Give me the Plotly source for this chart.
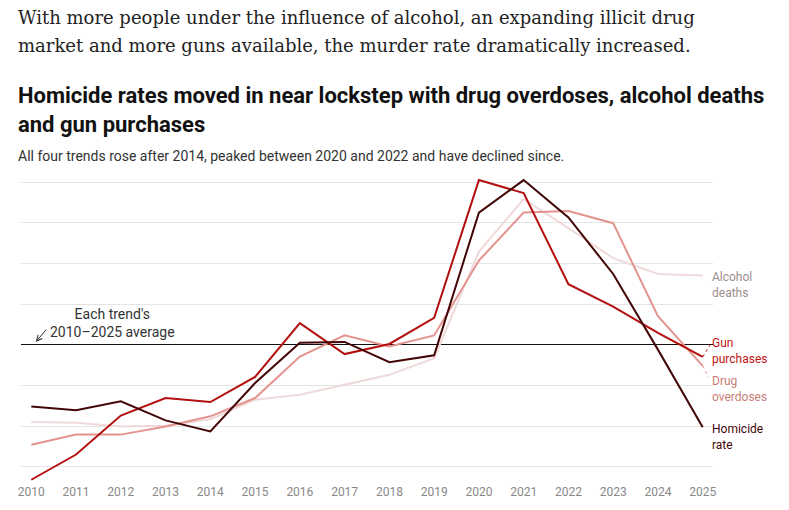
import plotly.graph_objects as go

# values are read as distance from each trend's own 2010-2025 average,
# in gridline units (0 = average)
years = list(range(2010, 2026))
homicide = [-1.52, -1.61, -1.39, -1.86, -2.13, -0.94, 0.05, 0.07,
            -0.43, -0.26, 3.25, 4.05, 3.13, 1.74, -0.12, -2.03]
guns = [-3.32, -2.70, -1.74, -1.31, -1.41, -0.79, 0.53, -0.23,
        0.02, 0.66, 4.05, 3.73, 1.49, 0.94, 0.29, -0.30]
drugs = [-2.46, -2.21, -2.21, -2.01, -1.76, -1.31, -0.29, 0.23,
         -0.04, 0.23, 2.07, 3.25, 3.29, 2.99, 0.70, -0.52]
alcohol = [-1.90, -1.92, -2.01, -1.99, -1.83, -1.35, -1.23, -0.98,
           -0.74, -0.33, 2.29, 3.58, 2.87, 2.13, 1.74, 1.70]

grid_vals = [-3, -2, -1, 1, 2, 3, 4]

series = [
    # name, values, line colour, label colour, label y
    ('Alcohol<br>deaths', alcohol, '#f0d9d9', '#9c8e8e', 1.47),
    ('Drug<br>overdoses', drugs, '#e3948f', '#c97d78', -1.08),
    ('Gun<br>purchases', guns, '#b30f0f', '#c41414', -0.16),
    ('Homicide<br>rate', homicide, '#420606', '#420606', -2.28),
]

FONT = 'Roboto'

fig = go.Figure()
for name, vals, color, _, _ in series:
    fig.add_trace(go.Scatter(
        x=years, y=vals, mode='lines',
        line=dict(color=color, width=2),
        name=name, hoverinfo='skip',
    ))

x_edge = 2025.23
annotations = []
for name, vals, _, lcolor, ly in series:
    annotations.append(dict(
        x=x_edge, y=ly, xref='x', yref='y', text=name, showarrow=False,
        xanchor='left', yanchor='middle', align='left', xshift=-3,
        font=dict(family=FONT, size=12, color=lcolor),
    ))

# dotted leader lines from the last point to the label
shapes = [
    dict(type='line', xref='x', yref='y', x0=2025, y0=guns[-1], x1=2025.17, y1=0.0,
         line=dict(color='#c41414', width=1, dash='dot')),
    dict(type='line', xref='x', yref='y', x0=2025, y0=drugs[-1], x1=2025.13, y1=-0.8,
         line=dict(color='#e3948f', width=1, dash='dot')),
]

# average note
annotations.append(dict(
    x=2011.82, y=0.53, xref='x', yref='y',
    text="Each trend's<br>2010\u20132025 average", showarrow=False,
    xanchor='center', yanchor='middle', align='center',
    font=dict(family=FONT, size=14, color='#333333'),
))
annotations.append(dict(
    x=2010.10, y=0.07, xref='x', yref='y', text=' ', showarrow=True,
    ax=12, ay=-14, standoff=0, startstandoff=0,
    arrowhead=5, arrowsize=1.1, arrowwidth=1, arrowcolor='#333333',
    font=dict(size=1),
))

# headline text
head_lines = [
    ('With more people under the influence of alcohol, an expanding illicit drug', 1.517),
    ('market and more guns available, the murder rate dramatically increased.', 1.426),
]
for txt, yy in head_lines:
    annotations.append(dict(
        x=0, y=yy, xref='paper', yref='paper', xshift=-5, text=txt,
        showarrow=False, xanchor='left', yanchor='middle', align='left',
        font=dict(family='DejaVu Serif', size=18, color='#222222')))

annotations += [
    dict(x=0, y=1.215, xref='paper', yref='paper', xshift=-5,
         text='<b>Homicide rates moved in near lockstep with drug overdoses, alcohol deaths<br>'
              'and gun purchases</b>',
         showarrow=False, xanchor='left', yanchor='middle', align='left',
         font=dict(family=FONT, size=22, color='#111111')),
    dict(x=0, y=1.065, xref='paper', yref='paper', xshift=-5,
         text='All four trends rose after 2014, peaked between 2020 and 2022 and have declined since.',
         showarrow=False, xanchor='left', yanchor='middle', align='left',
         font=dict(family=FONT, size=14, color='#333333')),
]

# page body has an 8px margin, so the figure is drawn 8px smaller
fig.update_layout(
    width=781, height=502,
    margin=dict(l=10, r=76, t=168, b=27),
    paper_bgcolor='white', plot_bgcolor='white',
    showlegend=False,
    annotations=annotations,
    shapes=shapes,
    font=dict(family=FONT),
    xaxis=dict(
        range=[2009.77, x_edge], tickvals=years, ticks='',
        showgrid=False, zeroline=False, showline=False,
        tickfont=dict(family=FONT, size=12, color='#888888'),
    ),
    yaxis=dict(
        range=[-3.4, 4.15], tickvals=grid_vals, showticklabels=False,
        showgrid=True, gridcolor='#e5e5e5', gridwidth=1,
        zeroline=True, zerolinecolor='#111111', zerolinewidth=1,
        showline=False,
    ),
)

fig.write_html('out.html')
